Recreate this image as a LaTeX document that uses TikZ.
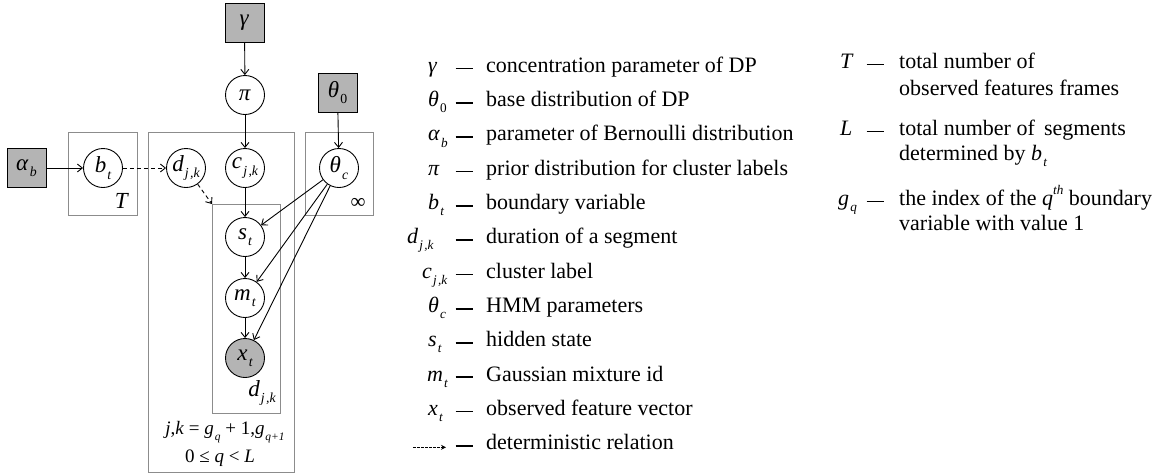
\documentclass[tikz,border=0pt]{standalone}
\usepackage{fontspec}
\setmainfont{Liberation Serif}
\usetikzlibrary{arrows.meta}
\makeatletter
\newcommand\lo[1]{\raisebox{-0.28em}{\fontsize{\fpeval{0.6*\f@size}}{\fpeval{0.6*\f@size}}\selectfont\itshape #1}}
\newcommand\hi[1]{\raisebox{0.5em}{\fontsize{\fpeval{0.6*\f@size}}{\fpeval{0.6*\f@size}}\selectfont\itshape #1}}
\makeatother
\newcommand\V[2]{\textit{#1}\kern0.05em\lo{#2}}
\newcommand\dash{\rule[0.28em]{17pt}{1.7pt}}
\definecolor{nodegray}{RGB}{180,180,180}
\definecolor{plategray}{RGB}{140,140,140}
\begin{document}
\begin{tikzpicture}[x=1pt,y=-1pt,
  var/.style={circle,draw,line width=0.9pt,minimum size=39pt,inner sep=0pt,font=\fontsize{23}{25}\selectfont},
  obs/.style={var,fill=nodegray},
  hyper/.style={rectangle,draw,line width=0.9pt,fill=nodegray,minimum size=39pt,inner sep=0pt,font=\fontsize{23}{25}\selectfont},
  plate/.style={draw=plategray,line width=0.8pt},
  arr/.style={line width=0.9pt,-{Straight Barb[length=5pt,width=8pt]}},
  detarr/.style={arr,dash pattern=on 4pt off 3pt},
  lbl/.style={inner sep=0pt,font=\fontsize{22}{24}\selectfont},
  sym/.style={lbl,anchor=mid west},
  dsh/.style={inner sep=0pt,anchor=center},
  desc/.style={lbl,anchor=mid west}
]
\useasboundingbox (0,0) rectangle (1174,475);
% plates
\draw[plate] (68,132) rectangle (137,215);
\draw[plate] (148,132) rectangle (294,472);
\draw[plate] (212,204) rectangle (280,413);
\draw[plate] (305,132) rectangle (373,215);
% nodes
\node[hyper] (gamma) at (244.5,22.5) {\textit{γ}};
\node[var] (pi) at (245,95) {\textit{π}};
\node[hyper] (theta0) at (337.5,92.5) {\V{θ}{\upshape 0}};
\node[hyper] (alpha) at (26.5,168) {\V{α}{b}};
\node[var] (b) at (103,168) {\V{b}{t}};
\node[var] (d) at (186,168) {\V{d}{j\kern0.1em,k}};
\node[var] (c) at (245,168) {\V{c}{j\kern0.1em,k}};
\node[var] (thc) at (339,168) {\V{θ}{c}};
\node[var] (s) at (245,237) {\V{s}{t}};
\node[var] (m) at (245,298) {\V{m}{t}};
\node[obs] (x) at (245,358) {\V{x}{t}};
\coordinate (platecorner) at (212,204);
% plate labels
\node[lbl,font=\fontsize{23}{25}\selectfont] (Tlab) at (122,201) {\textit{T}};
\node[lbl,font=\fontsize{21}{23}\selectfont] (inflab) at (358,203) {∞};
\node[lbl,font=\fontsize{23}{25}\selectfont] (dlab) at (262,393) {\V{d}{j\kern0.1em,k}};
\node[lbl,font=\fontsize{19}{21}\selectfont] (jk) at (225,432) {\textit{j},\textit{k} = \V{g}{q} + 1,\V{g}{q+1}};
\node[lbl,font=\fontsize{19}{21}\selectfont] (ql) at (220,458) {0 ≤ \textit{q} < \textit{L}};
% edges
\draw[arr] (gamma) -- (pi);
\draw[arr] (pi) -- (c);
\draw[arr] (theta0) -- (thc);
\draw[arr] (alpha) -- (b);
\draw[detarr] (b) -- (d);
\draw[detarr] (d) -- (platecorner);
\draw[arr] (c) -- (s);
\draw[arr] (s) -- (m);
\draw[arr] (m) -- (x);
\draw[arr] (thc) -- (s);
\draw[arr] (thc) -- (m);
\draw[arr] (thc) -- (x);
% legend column 1
\node[sym] (l1s) at (428,70) {\textit{γ}};
\node[sym] (l2s) at (428,104.3) {\V{θ}{\upshape 0}};
\node[sym] (l3s) at (428,138.6) {\V{α}{b}};
\node[sym] (l4s) at (428,172.9) {\textit{π}};
\node[sym] (l5s) at (428,207.2) {\V{b}{t}};
\node[sym] (l6s) at (407,241.5) {\V{d}{j\kern0.1em,k}};
\node[sym] (l7s) at (422,275.8) {\V{c}{j\kern0.1em,k}};
\node[sym] (l8s) at (428,310.1) {\V{θ}{c}};
\node[sym] (l9s) at (428,344.4) {\V{s}{t}};
\node[sym] (l10s) at (427,378.7) {\V{m}{t}};
\node[sym] (l11s) at (428,413) {\V{x}{t}};
\coordinate (darrA) at (413,447.3);
\coordinate (darrB) at (446,447.3);
\draw[line width=0.8pt,dash pattern=on 2.5pt off 1.5pt,-{Stealth[length=5pt,width=5pt]}] (darrA) -- (darrB);
\foreach \i/\y in {1/70,2/104.3,3/138.6,4/172.9,5/207.2,6/241.5,7/275.8,8/310.1,9/344.4,10/378.7,11/413,12/447.3}
  \node[dsh] (l\i d) at (464,\y) {\dash};
\node[desc] (l1t) at (486,70) {concentration parameter of DP};
\node[desc] (l2t) at (486,104.3) {base distribution of DP};
\node[desc] (l3t) at (486,138.6) {parameter of Bernoulli distribution};
\node[desc] (l4t) at (486,172.9) {prior distribution for cluster labels};
\node[desc] (l5t) at (486,207.2) {boundary variable};
\node[desc] (l6t) at (486,241.5) {duration of a segment};
\node[desc] (l7t) at (486,275.8) {cluster label};
\node[desc] (l8t) at (486,310.1) {HMM parameters};
\node[desc] (l9t) at (486,344.4) {hidden state};
\node[desc] (l10t) at (486,378.7) {Gaussian mixture id};
\node[desc] (l11t) at (486,413) {observed feature vector};
\node[desc] (l12t) at (486,447.3) {deterministic relation};
% legend column 2
\node[sym] (r1s) at (840,66) {\textit{T}};
\node[dsh] (r1d) at (875,66) {\dash};
\node[desc] (r1t) at (899,66) {total number of};
\node[desc] (r1u) at (899,93) {observed features frames};
\node[sym] (r2s) at (840,133) {\textit{L}};
\node[dsh] (r2d) at (875,133) {\dash};
\node[desc] (r2t) at (899,133) {total number of\, segments};
\node[desc] (r2u) at (899,158) {determined by \V{b}{t}};
\node[sym] (r3s) at (838,203) {\V{g}{q}};
\node[dsh] (r3d) at (875,203) {\dash};
\node[desc] (r3t) at (899,203) {the index of the \textit{q}\hi{th} boundary};
\node[desc] (r3u) at (899,228) {variable with value 1};
\end{tikzpicture}
\end{document}
